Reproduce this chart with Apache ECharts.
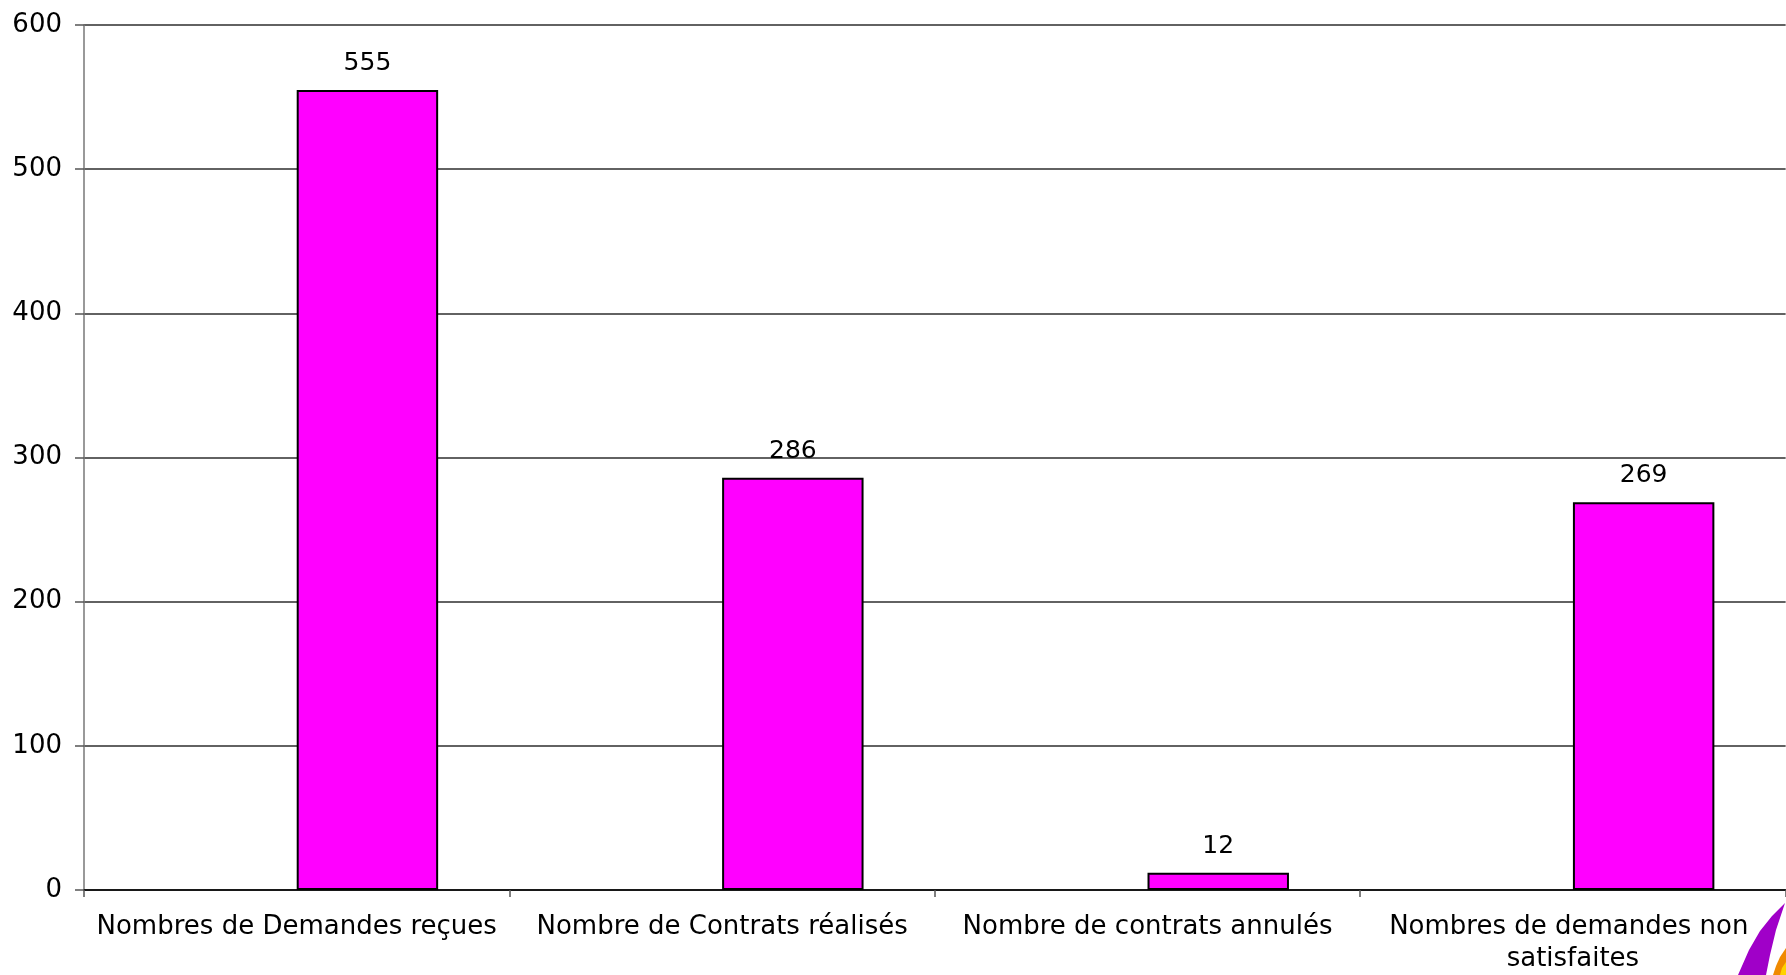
<!DOCTYPE html>
<html>
<head>
<meta charset="utf-8">
<script src="https://cdn.jsdelivr.net/npm/echarts@6/dist/echarts.min.js"></script>
<style>
html,body{margin:0;padding:0;background:#fff;}
#chart{width:1786px;height:975px;}
</style>
</head>
<body>
<div id="chart"></div>
<script>
const categories = [
  "Nombres de Demandes reçues",
  "Nombre de Contrats réalisés",
  "Nombre de contrats annulés",
  "Nombres de demandes non satisfaites"
];
const emptySeriesValues = [null, null, null, null];
const values = [555, 286, 12, 269];
const yTicks = { min: 0, max: 600, interval: 100 };

const FONT = "DejaVu Sans";
const chart = echarts.init(document.getElementById('chart'), null, { renderer: 'canvas' });
chart.setOption({
  animation: false,
  backgroundColor: '#ffffff',
  grid: { left: 84, top: 25, height: 871, width: 1721, containLabel: false },
  xAxis: {
    type: 'category',
    data: categories,
    axisLine: { show: true, lineStyle: { color: '#000', width: 1.5 } },
    axisTick: { show: true, alignWithLabel: false, length: 7, lineStyle: { color: '#555', width: 1.5 } },
    axisLabel: {
      interval: 0,
      color: '#000',
      fontFamily: FONT,
      fontSize: 26,
      margin: 21,
      lineHeight: 32,
      width: 425,
      overflow: 'break'
    },
    splitLine: { show: false }
  },
  yAxis: {
    type: 'value',
    min: yTicks.min,
    max: yTicks.max,
    interval: yTicks.interval,
    axisLine: { show: true, lineStyle: { color: '#777', width: 1.5 } },
    axisTick: { show: true, inside: false, length: 9, lineStyle: { color: '#555', width: 1.5 } },
    axisLabel: { color: '#000', fontFamily: FONT, fontSize: 26, margin: 22 },
    splitLine: { show: true, lineStyle: { color: '#626262', width: 2 } }
  },
  series: [
    {
      type: 'bar',
      name: 'vide',
      data: emptySeriesValues,
      barGap: '0%',
      barCategoryGap: '33.5%'
    },
    {
      type: 'bar',
      name: 'valeurs',
      data: values,
      barGap: '0%',
      barCategoryGap: '33.5%',
      itemStyle: { color: '#ff00ff', borderColor: '#000', borderWidth: 2 },
      label: {
        show: true,
        position: 'top',
        distance: 14,
        color: '#000',
        fontFamily: FONT,
        fontSize: 25
      },
      z: 3
    }
  ],
  graphic: {
    elements: [
      {
        type: 'polygon',
        z: -5,
        shape: { points: [[1785,903],[1772,916],[1760,931],[1749,950],[1738,975],[1766,975],[1770,955],[1776,930],[1785,903]] },
        style: { fill: '#a000c8' }
      },
      {
        type: 'polygon',
        z: -5,
        shape: { points: [[1786,948],[1780,957],[1776,966],[1773,975],[1786,975]] },
        style: { fill: '#f08a00' }
      },
      {
        type: 'polygon',
        z: -4,
        shape: { points: [[1786,962],[1782,968],[1780,975],[1786,975]] },
        style: { fill: '#ffd200' }
      }
    ]
  }
});
</script>
</body>
</html>
